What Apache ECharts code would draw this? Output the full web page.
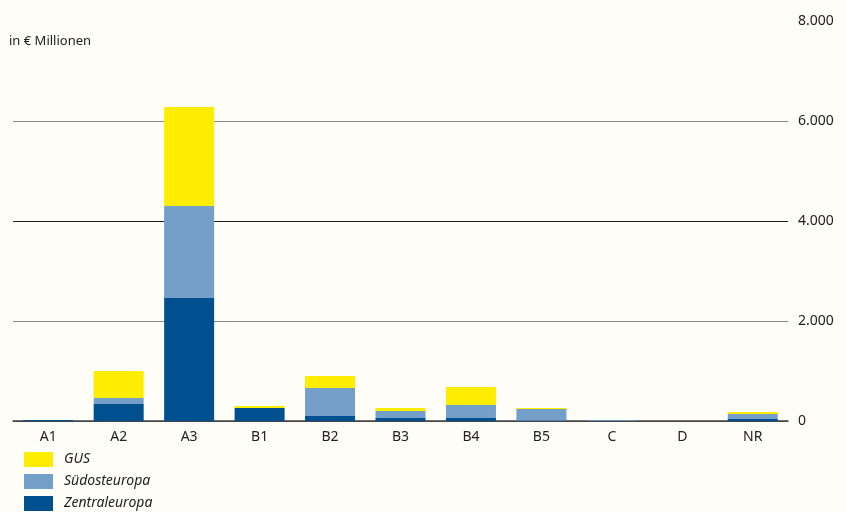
<!DOCTYPE html>
<html>
<head>
<meta charset="utf-8">
<script src="https://cdn.jsdelivr.net/npm/echarts@6/dist/echarts.min.js"></script>
<style>
  html, body { margin: 0; padding: 0; background: #fefdf8; }
  #chart { width: 846px; height: 512px; }
</style>
</head>
<body>
<div id="chart"></div>
<script>
  const categories = ['A1', 'A2', 'A3', 'B1', 'B2', 'B3', 'B4', 'B5', 'C', 'D', 'NR'];
  const zentraleuropa = [20, 340, 2460, 260, 100, 60, 60, 10, 5, 0, 40];
  const suedosteuropa = [0, 120, 1840, 0, 560, 140, 260, 230, 15, 0, 100];
  const gus = [0, 540, 1980, 40, 240, 60, 360, 20, 0, 0, 40];

  const fmt = (v) => String(v).replace(/\B(?=(\d{3})+(?!\d))/g, '.');

  const chart = echarts.init(document.getElementById('chart'));

  const option = {
    backgroundColor: '#fefdf8',
    animation: false,
    textStyle: { fontFamily: 'Noto Sans' },
    title: {
      text: 'in € Millionen',
      left: 4,
      top: 30,
      textStyle: { fontSize: 13, fontWeight: 'normal', color: '#222' }
    },
    legend: {
      orient: 'vertical',
      left: 24,
      top: 452,
      padding: 0,
      itemWidth: 29,
      itemHeight: 15,
      itemGap: 7,
      icon: 'rect',
      data: ['GUS', 'Südosteuropa', 'Zentraleuropa'],
      textStyle: { fontSize: 14, fontStyle: 'italic', color: '#222', padding: [0, 0, 0, 6] }
    },
    grid: { left: 13, right: 58, top: 21, bottom: 91 },
    xAxis: {
      type: 'category',
      data: categories,
      axisLine: { lineStyle: { color: '#444', width: 1.5 } },
      axisTick: { show: false },
      axisLabel: { fontSize: 14, color: '#222', margin: 9 }
    },
    yAxis: {
      type: 'value',
      position: 'right',
      min: 0,
      max: 8000,
      interval: 2000,
      axisLine: { show: false },
      axisTick: { show: false },
      axisLabel: { fontSize: 14, color: '#222', margin: 10, formatter: fmt },
      splitLine: {
        lineStyle: { color: ['#444', '#888', '#222', '#888', 'rgba(0,0,0,0)'], width: 1.2 }
      }
    },
    series: [
      {
        name: 'Zentraleuropa', type: 'bar', stack: 'total', data: zentraleuropa,
        barWidth: 50, itemStyle: { color: '#00508f' }
      },
      {
        name: 'Südosteuropa', type: 'bar', stack: 'total', data: suedosteuropa,
        barWidth: 50, itemStyle: { color: '#739fc8' }
      },
      {
        name: 'GUS', type: 'bar', stack: 'total', data: gus,
        barWidth: 50, itemStyle: { color: '#ffed00' }
      }
    ]
  };

  chart.setOption(option);
</script>
</body>
</html>
